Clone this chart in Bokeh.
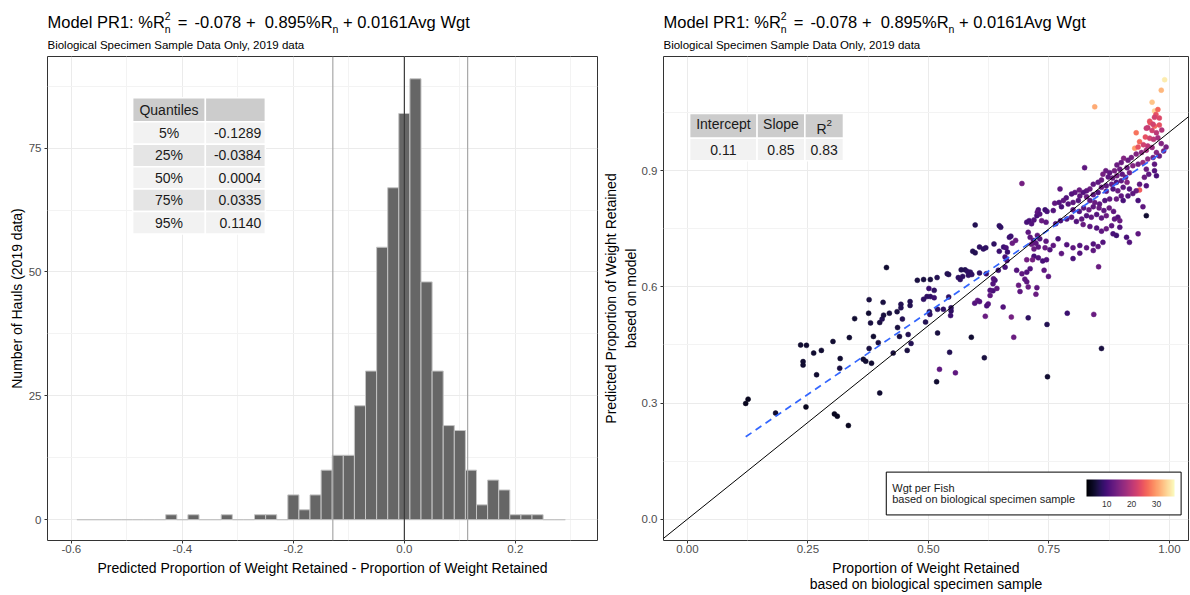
from bokeh.plotting import figure
from bokeh.models import (Range1d, FixedTicker, CustomJSTickFormatter, Span, Slope,
                          ColorBar, LinearColorMapper)
from bokeh.layouts import row, column
from bokeh.palettes import Magma256
from bokeh.transform import linear_cmap
from bokeh.core.properties import value
from bokeh.embed import file_html
from bokeh.resources import INLINE

FONT = "Liberation Sans"

# ---------------- data ----------------
bin_width = 0.02
bin_centers = [-0.58, -0.56, -0.54, -0.52, -0.50, -0.48, -0.46, -0.44, -0.42, -0.40,
               -0.38, -0.36, -0.34, -0.32, -0.30, -0.28, -0.26, -0.24, -0.22, -0.20,
               -0.18, -0.16, -0.14, -0.12, -0.10, -0.08, -0.06, -0.04, -0.02, 0.00,
               0.02, 0.04, 0.06, 0.08, 0.10, 0.12, 0.14, 0.16, 0.18, 0.20,
               0.22, 0.24, 0.26, 0.28]
haul_counts = [0, 0, 0, 0, 0, 0, 0, 0, 1, 0,
               1, 0, 0, 1, 0, 0, 1, 1, 0, 5,
               2, 5, 10, 13, 13, 23, 30, 55, 67, 82,
               89, 48, 30, 19, 18, 10, 3, 8, 6, 1,
               1, 1, 0, 0]

quantile_labels = ["5%", "25%", "50%", "75%", "95%"]
quantile_values = [-0.1289, -0.0384, 0.0004, 0.0335, 0.1140]

reg_labels = ["Intercept", "Slope", "R"]
reg_values = [0.11, 0.85, 0.83]

title_parts = ["Model PR1: %R", "n", "2", "=", "-0.078 +\u00a0\u00a00.895%R", "n", "+ 0.0161Avg Wgt"]
subtitle = "Biological Specimen Sample Data Only, 2019 data"
left_xlabel = ["Predicted Proportion of Weight Retained - Proportion of Weight Retained"]
left_ylabel = "Number of Hauls (2019 data)"
right_xlabel = ["Proportion of Weight Retained", "based on biological specimen sample"]
right_ylabel = "Predicted Proportion of Weight Retained\nbased on model"
legend_lines = ["Wgt per Fish", "based on biological specimen sample"]

obs_prop = [
    0.121, 0.126, 0.183, 0.246, 0.240, 0.240, 0.235, 0.247, 0.262, 0.278,
    0.268, 0.302, 0.317, 0.316, 0.305, 0.311, 0.334, 0.336, 0.347, 0.377,
    0.376, 0.380, 0.365, 0.370, 0.382, 0.377, 0.386, 0.396, 0.399, 0.404,
    0.407, 0.406, 0.419, 0.399, 0.427, 0.435, 0.443, 0.443, 0.436, 0.446,
    0.440, 0.458, 0.462, 0.462, 0.456, 0.464, 0.494, 0.502, 0.503, 0.490,
    0.497, 0.504, 0.512, 0.519, 0.531, 0.547, 0.547, 0.546, 0.519, 0.544,
    0.517, 0.523, 0.556, 0.589, 0.616, 0.596, 0.602, 0.606, 0.621, 0.624,
    0.618, 0.628, 0.655, 0.672, 0.677, 0.707, 0.746, 0.747, 0.788, 0.843,
    0.859, 0.723, 0.690, 0.634,
    0.694, 0.597, 0.647, 0.650, 0.413, 0.592, 0.597, 0.606, 0.614, 0.619,
    0.636, 0.647, 0.656, 0.661, 0.664, 0.659, 0.668, 0.671, 0.674, 0.681,
    0.663, 0.659, 0.645, 0.638, 0.635, 0.634, 0.642, 0.628, 0.620, 0.606,
    0.587, 0.590, 0.583, 0.568, 0.576, 0.581, 0.566, 0.562, 0.571, 0.542,
    0.539, 0.518, 0.504, 0.490, 0.477, 0.501, 0.512, 0.542, 0.683, 0.694,
    0.704, 0.687, 0.700, 0.704, 0.707, 0.725, 0.711, 0.719, 0.728, 0.737,
    0.745, 0.740, 0.749, 0.704, 0.709, 0.714, 0.719, 0.725, 0.728, 0.726,
    0.731, 0.735, 0.744, 0.742, 0.746, 0.707, 0.711, 0.718, 0.714, 0.723,
    0.719, 0.728, 0.731, 0.744, 0.742, 0.726, 0.704, 0.716,
    0.960, 0.969, 0.979, 0.964, 0.973, 0.931, 0.950, 0.959, 0.967, 0.976,
    0.983, 0.938, 0.946, 0.955, 0.964, 0.928, 0.935, 0.952, 0.942, 0.973,
    0.993, 0.988, 0.979, 0.966, 0.955, 0.931, 0.921, 0.914, 0.905, 0.900,
    0.891, 0.945, 0.935, 0.924, 0.912, 0.969, 0.952, 0.969, 0.957, 0.973,
    0.948, 0.938, 0.952, 0.938, 0.931, 0.935, 0.945, 0.952, 0.935, 0.917,
    0.890, 0.883, 0.897, 0.886, 0.876, 0.868, 0.862, 0.873, 0.882, 0.891,
    0.902, 0.909, 0.917, 0.912, 0.900, 0.890, 0.880, 0.869, 0.859, 0.852,
    0.859, 0.842, 0.835, 0.828, 0.821, 0.813, 0.804, 0.797, 0.814, 0.828,
    0.842, 0.852, 0.869, 0.883, 0.893, 0.904, 0.917, 0.924, 0.914, 0.900,
    0.890, 0.876, 0.866, 0.904, 0.824, 0.786, 0.780, 0.771, 0.762, 0.773,
    0.776, 0.790, 0.800, 0.811, 0.835, 0.845, 0.855, 0.759, 0.800, 0.813,
    0.822, 0.833, 0.842, 0.854, 0.864, 0.875, 0.884, 0.893, 0.886, 0.869,
    0.859, 0.849, 0.838, 0.828, 0.818, 0.807, 0.797, 0.787, 0.774, 0.764,
    0.821, 0.835, 0.849, 0.859, 0.869, 0.880, 0.897, 0.911, 0.862, 0.852,
    0.842, 0.828, 0.814, 0.800, 0.787, 0.769, 0.759, 0.752, 0.776, 0.800,
    0.814, 0.842, 0.897, 0.853, 0.990, 0.983, 0.964, 0.969, 0.845, 0.976,
    0.972, 0.969, 0.979, 0.959, 0.966, 0.955, 0.984, 0.952,
]
pred_prop = [
    0.299, 0.310, 0.274, 0.290, 0.407, 0.398, 0.450, 0.449, 0.429, 0.436,
    0.373, 0.459, 0.415, 0.390, 0.272, 0.266, 0.242, 0.469, 0.518, 0.567,
    0.532, 0.507, 0.413, 0.408, 0.403, 0.441, 0.472, 0.456, 0.508, 0.517,
    0.527, 0.560, 0.532, 0.326, 0.429, 0.536, 0.555, 0.546, 0.495, 0.517,
    0.472, 0.477, 0.562, 0.552, 0.436, 0.454, 0.509, 0.536, 0.529, 0.568,
    0.575, 0.575, 0.572, 0.542, 0.542, 0.546, 0.538, 0.526, 0.481, 0.431,
    0.355, 0.387, 0.378, 0.470, 0.417, 0.558, 0.565, 0.562, 0.551, 0.556,
    0.524, 0.578, 0.548, 0.522, 0.470, 0.520, 0.503, 0.368, 0.532, 0.529,
    0.441, 0.581, 0.588, 0.590,
    0.867, 0.760, 0.758, 0.754, 0.650, 0.692, 0.688, 0.703, 0.698, 0.701,
    0.711, 0.692, 0.703, 0.701, 0.690, 0.677, 0.728, 0.731, 0.713, 0.720,
    0.668, 0.651, 0.643, 0.617, 0.621, 0.608, 0.596, 0.591, 0.634, 0.636,
    0.638, 0.632, 0.630, 0.644, 0.644, 0.640, 0.619, 0.624, 0.627, 0.632,
    0.634, 0.624, 0.619, 0.619, 0.617, 0.596, 0.591, 0.574, 0.643, 0.634,
    0.638, 0.604, 0.620, 0.613, 0.600, 0.598, 0.647, 0.679, 0.675, 0.667,
    0.670, 0.643, 0.627, 0.767, 0.771, 0.763, 0.773, 0.784, 0.799, 0.793,
    0.788, 0.771, 0.767, 0.799, 0.795, 0.741, 0.728, 0.720, 0.710, 0.713,
    0.698, 0.703, 0.724, 0.718, 0.701, 0.733, 0.670, 0.670,
    1.024, 1.015, 1.018, 1.004, 0.998, 0.998, 0.987, 0.984, 0.981, 0.985,
    0.970, 0.975, 0.967, 0.964, 0.960, 0.958, 0.961, 0.953, 0.947, 0.947,
    0.961, 0.951, 0.938, 0.934, 0.930, 0.943, 0.934, 0.927, 0.932, 0.921,
    0.915, 0.921, 0.917, 0.913, 0.908, 0.917, 0.904, 0.900, 0.891, 0.887,
    0.883, 0.865, 0.861, 0.850, 0.848, 0.823, 0.807, 0.784, 0.737, 0.715,
    0.733, 0.737, 0.904, 0.900, 0.895, 0.900, 0.891, 0.884, 0.881, 0.887,
    0.891, 0.883, 0.895, 0.870, 0.874, 0.870, 0.865, 0.861, 0.857, 0.870,
    0.876, 0.865, 0.853, 0.848, 0.844, 0.850, 0.844, 0.840, 0.835, 0.833,
    0.838, 0.844, 0.847, 0.853, 0.848, 0.857, 0.853, 0.841, 0.835, 0.835,
    0.827, 0.827, 0.823, 0.823, 0.908, 0.830, 0.823, 0.818, 0.816, 0.853,
    0.807, 0.814, 0.818, 0.823, 0.823, 0.818, 0.814, 0.797, 0.799, 0.795,
    0.804, 0.799, 0.807, 0.804, 0.797, 0.804, 0.795, 0.780, 0.775, 0.784,
    0.778, 0.787, 0.780, 0.784, 0.775, 0.769, 0.780, 0.775, 0.771, 0.763,
    0.761, 0.756, 0.752, 0.744, 0.750, 0.758, 0.754, 0.728, 0.715, 0.704,
    0.711, 0.701, 0.707, 0.701, 0.709, 0.724, 0.707, 0.696, 0.686, 0.673,
    0.687, 0.694, 0.771, 0.652, 1.135, 1.108, 1.077, 1.054, 1.065, 1.058,
    1.045, 1.038, 1.036, 1.028, 1.020, 1.011, 1.005, 1.010,
]
wgt_per_fish = [
    4, 4, 5, 4, 5, 5, 5, 5, 5, 5,
    5, 5, 5, 6, 4, 4, 4, 5, 5, 6,
    5, 6, 5, 5, 5, 6, 5, 6, 6, 7,
    6, 6, 6, 5, 6, 6, 7, 7, 6, 7,
    6, 7, 7, 7, 6, 7, 7, 7, 8, 8,
    8, 8, 9, 8, 8, 8, 8, 9, 6, 7,
    5, 12, 12, 5, 6, 11, 12, 11, 10, 11,
    13, 12, 11, 14, 13, 8, 7, 5, 9, 13,
    6, 13, 12, 10,
    14, 7, 8, 8, 5, 7, 7, 8, 8, 8,
    8, 9, 9, 10, 9, 10, 9, 9, 13, 13,
    11, 10, 9, 10, 11, 11, 12, 11, 9, 8,
    8, 8, 8, 7, 7, 8, 8, 8, 8, 7,
    7, 7, 6, 6, 6, 9, 8, 8, 11, 12,
    11, 13, 12, 12, 13, 12, 11, 10, 11, 10,
    11, 12, 12, 10, 10, 11, 11, 10, 10, 12,
    11, 13, 12, 9, 10, 12, 12, 11, 13, 12,
    13, 12, 11, 12, 13, 12, 14, 14,
    25, 26, 24, 22, 20, 27, 24, 22, 20, 18,
    15, 26, 22, 20, 17, 30, 24, 18, 16, 15,
    14, 14, 13, 14, 16, 15, 14, 13, 15, 13,
    13, 17, 14, 15, 13, 12, 13, 11, 12, 10,
    13, 12, 11, 25, 13, 10, 12, 5, 12, 11,
    9, 10, 13, 14, 12, 13, 14, 12, 13, 14,
    12, 13, 14, 15, 12, 11, 13, 12, 13, 12,
    13, 12, 13, 12, 11, 13, 12, 11, 12, 13,
    12, 11, 12, 11, 13, 12, 11, 12, 11, 12,
    13, 12, 11, 10, 12, 11, 12, 11, 12, 12,
    10, 11, 12, 11, 12, 13, 12, 11, 12, 11,
    12, 13, 12, 13, 12, 13, 12, 11, 12, 13,
    12, 11, 12, 11, 12, 11, 12, 11, 10, 11,
    13, 12, 11, 12, 13, 12, 11, 10, 11, 12,
    11, 12, 11, 12, 11, 10, 12, 11, 12, 10,
    11, 12, 13, 13, 36, 32, 33, 34, 31, 26,
    24, 22, 23, 24, 22, 20, 19, 21,
]
wgt_low, wgt_high = 1.8, 37.3
n_pts = min(len(obs_prop), len(pred_prop), len(wgt_per_fish))
obs_prop, pred_prop, wgt_per_fish = obs_prop[:n_pts], pred_prop[:n_pts], wgt_per_fish[:n_pts]

# ---------------- layout helpers ----------------
AW = {' ': 278, '\u00a0': 278, '%': 889, '(': 333, ')': 333, '+': 584, ',': 278, '-': 333,
      '.': 278, ':': 278, '=': 584, 'A': 667, 'B': 667, 'D': 722, 'M': 833, 'O': 778,
      'P': 667, 'R': 722, 'S': 667, 'W': 944, 'a': 556, 'b': 556, 'c': 500, 'd': 556,
      'e': 556, 'f': 278, 'g': 556, 'h': 556, 'i': 222, 'l': 222, 'm': 833, 'n': 556,
      'o': 556, 'p': 556, 'r': 333, 's': 500, 't': 278, 'u': 556, 'v': 500, 'y': 500}


def tw(s, size):
    return sum(AW.get(c, 556) for c in s) * size / 1000.0


def mid(baseline, size):
    # centre ("middle" text baseline) for a wanted alphabetic baseline, in page pixels
    return baseline - 0.3 * size


TITLE_H = 55
PLOT_H = 503
STRIP_H = 594 - TITLE_H - PLOT_H
TOP_B, BOT_B = 1, 18
FH = PLOT_H - TOP_B - BOT_B
P1_W, P1_L, P1_R = 600, 47, 3
P2_W, P2_L, P2_R = 589, 63, 1
FW1 = P1_W - P1_L - P1_R
FW2 = P2_W - P2_L - P2_R

L_XR = (-0.643, 0.348)
L_YR = (-4.2, 93.5)
R_XR = (-0.0495, 1.0395)
R_YR = (-0.055, 1.195)


def lx(X):  # reference pixel -> left data
    return (X - 404.0) / 555.0


def ly(Y):
    return (520.0 - Y) / 4.96


def rx(X):
    return (X - 686.0) / 484.0


def ry(Y):
    return (520.0 - Y) / 389.0


def strip(height, left, right, fw):
    s = figure(frame_width=fw, frame_height=height, output_backend="svg", toolbar_location=None,
               title=None, x_range=Range1d(0, fw), y_range=Range1d(0, height),
               x_axis_type=None, y_axis_type=None,
               min_border_left=left, min_border_right=right, min_border_top=0, min_border_bottom=0)
    s.outline_line_color = None
    s.background_fill_color = "white"
    s.border_fill_color = "white"
    return s


def txt(p, x, y, t, size, align="left", baseline="middle", color="black"):
    p.text(x=[x], y=[y], text=[t], text_font=value(FONT), text_font_size=value("%.1fpx" % size),
           text_align=align, text_baseline=baseline, text_color=color)


def title_strip(left, right, fw):
    s = strip(TITLE_H, left, right, fw)
    big, small = 16.5, 10.5
    base = TITLE_H - mid(26.0, big)
    sub_b = TITLE_H - mid(31.5, small)
    sup_b = TITLE_H - mid(19.0, small)
    x = 0.0
    txt(s, x, base, title_parts[0], big)
    x += tw(title_parts[0], big)
    txt(s, x, sub_b, title_parts[1], small)
    txt(s, x, sup_b, title_parts[2], small)
    x += tw("n", small) + tw(" ", big) + 2.5
    txt(s, x, base, title_parts[3], big)
    x += tw("=", big) + tw(" ", big) + 2.5
    txt(s, x, base, title_parts[4], big)
    x += tw(title_parts[4], big)
    txt(s, x, sub_b, title_parts[5], small)
    x += tw("n", small) + tw(" ", big)
    txt(s, x, base, title_parts[6], big)
    txt(s, 0, TITLE_H - mid(47.5, 11.5), subtitle, 11.5)
    return s


def xlabel_strip(left, right, fw, lines):
    s = strip(STRIP_H, left, right, fw)
    top = TITLE_H + PLOT_H
    ys = [STRIP_H - (567.0 - top), STRIP_H - (583.0 - top)]
    for t, yy in zip(lines, ys):
        txt(s, fw / 2.0, yy, t, 14, align="center")
    return s


def style(p, xt, xmin, yt, ymin, xfmt=None, yfmt=None):
    xtick = FixedTicker(ticks=xt, minor_ticks=xmin)
    ytick = FixedTicker(ticks=yt, minor_ticks=ymin)
    p.xaxis.ticker = xtick
    p.yaxis.ticker = ytick
    p.xgrid.ticker = xtick
    p.ygrid.ticker = ytick
    if xfmt:
        p.xaxis.formatter = CustomJSTickFormatter(code="return tick.toFixed(%d)" % xfmt)
    if yfmt:
        p.yaxis.formatter = CustomJSTickFormatter(code="return tick.toFixed(%d)" % yfmt)
    for g in (p.xgrid, p.ygrid):
        g.grid_line_color = "#ebebeb"
        g.grid_line_width = 1
        g.minor_grid_line_color = "#f3f3f3"
        g.minor_grid_line_width = 1
    p.outline_line_color = "#333333"
    p.outline_line_width = 1
    p.outline_line_alpha = 1
    p.background_fill_color = "white"
    p.border_fill_color = "white"
    for ax in (p.xaxis[0], p.yaxis[0]):
        ax.axis_line_color = None
        ax.major_tick_line_color = "#333333"
        ax.major_tick_out = 3
        ax.major_tick_in = 0
        ax.minor_tick_line_color = None
        ax.major_label_text_font = FONT
        ax.major_label_text_font_size = "11.5px"
        ax.major_label_text_color = "#4d4d4d"
        ax.axis_label_text_font = FONT
        ax.axis_label_text_font_size = "14px"
        ax.axis_label_text_font_style = "normal"
        ax.axis_label_text_color = "black"
        ax.axis_label_standoff = 1
    p.xaxis[0].major_label_standoff = 0
    p.yaxis[0].major_label_standoff = 2


# ---------------- left: histogram ----------------
p1 = figure(width=P1_W, height=PLOT_H, output_backend="svg", toolbar_location=None, title=None,
            x_range=Range1d(*L_XR), y_range=Range1d(*L_YR),
            min_border_left=P1_L, min_border_right=P1_R, min_border_top=TOP_B, min_border_bottom=BOT_B)
style(p1, [-0.6, -0.4, -0.2, 0.0, 0.2], [-0.5, -0.3, -0.1, 0.1, 0.3],
      [0, 25, 50, 75], [12.5, 37.5, 62.5, 87.5], xfmt=1)
p1.yaxis.axis_label = left_ylabel

p1.quad(left=[c - bin_width / 2 for c in bin_centers], right=[c + bin_width / 2 for c in bin_centers],
        top=haul_counts, bottom=0, fill_color="#666666", line_color="#c4c4c4", line_width=1)

p1.add_layout(Span(location=quantile_values[0], dimension="height", line_color="#a8a8a8", line_width=1.2))
p1.add_layout(Span(location=quantile_values[-1], dimension="height", line_color="#a8a8a8", line_width=1.2))
p1.add_layout(Span(location=0.0, dimension="height", line_color="#3a3a3a", line_width=1.2))

# quantile table
tcols = [132.3, 205.0, 265.0]
trows = [97.5, 121.5, 144.0, 166.5, 189.0, 211.5, 234.0]
q_l, q_r, q_t, q_b, q_f = [], [], [], [], []
for i in range(6):
    fill = "#cccccc" if i == 0 else ("#f2f2f2" if i % 2 == 1 else "#e5e5e5")
    for j in range(2):
        q_l.append(lx(tcols[j])); q_r.append(lx(tcols[j + 1]))
        q_t.append(ly(trows[i])); q_b.append(ly(trows[i + 1])); q_f.append(fill)
p1.quad(left=q_l, right=q_r, top=q_t, bottom=q_b, fill_color=q_f, line_color="white", line_width=1.5)
c1 = (tcols[0] + tcols[1]) / 2
txt(p1, lx(c1), ly((trows[0] + trows[1]) / 2), "Quantiles", 14, "center", "middle", "#1a1a1a")
rc = [(trows[i + 1] + trows[i + 2]) / 2 for i in range(5)]
p1.text(x=[lx(c1)] * 5, y=[ly(v) for v in rc], text=quantile_labels,
        text_font=value(FONT), text_font_size=value("14px"), text_align="center",
        text_baseline="middle", text_color="#1a1a1a")
p1.text(x=[lx(261.0)] * 5, y=[ly(v) for v in rc], text=["%.4f" % v for v in quantile_values],
        text_font=value(FONT), text_font_size=value("14px"), text_align="right",
        text_baseline="middle", text_color="#1a1a1a")

# ---------------- right: scatter ----------------
p2 = figure(width=P2_W, height=PLOT_H, output_backend="svg", toolbar_location=None, title=None,
            x_range=Range1d(*R_XR), y_range=Range1d(*R_YR),
            min_border_left=P2_L, min_border_right=P2_R, min_border_top=TOP_B, min_border_bottom=BOT_B)
style(p2, [0.0, 0.25, 0.5, 0.75, 1.0], [0.125, 0.375, 0.625, 0.875],
      [0.0, 0.3, 0.6, 0.9], [0.15, 0.45, 0.75, 1.05], xfmt=2, yfmt=1)
p2.yaxis.axis_label = right_ylabel
p2.yaxis[0].axis_label_standoff = 0

cmap = linear_cmap("w", Magma256, wgt_low, wgt_high)
p2.scatter(x="x", y="y", source=dict(x=obs_prop, y=pred_prop, w=wgt_per_fish),
           size=5, fill_color=cmap, line_color=cmap, line_width=0.5)

p2.add_layout(Slope(gradient=1, y_intercept=0, line_color="black", line_width=1))
xmin, xmax = min(obs_prop), max(obs_prop)
p2.line([xmin, xmax], [reg_values[0] + reg_values[1] * xmin, reg_values[0] + reg_values[1] * xmax],
        line_color="#3366FF", line_width=1.7, line_dash="7 5")

# regression table
rcols = [688.3, 756.0, 804.0, 842.7]
rrows = [112.3, 137.3, 160.0]
r_l, r_r, r_t, r_b, r_f = [], [], [], [], []
for i in range(2):
    for j in range(3):
        r_l.append(rx(rcols[j])); r_r.append(rx(rcols[j + 1]))
        r_t.append(ry(rrows[i])); r_b.append(ry(rrows[i + 1]))
        r_f.append("#cccccc" if i == 0 else "#f2f2f2")
p2.quad(left=r_l, right=r_r, top=r_t, bottom=r_b, fill_color=r_f, line_color="white", line_width=1.5)
ccs = [(rcols[j] + rcols[j + 1]) / 2 for j in range(3)]
p2.text(x=[rx(ccs[0]), rx(ccs[1])], y=[ry(123.3)] * 2, text=reg_labels[:2],
        text_font=value(FONT), text_font_size=value("14px"), text_align="center",
        text_baseline="middle", text_color="#1a1a1a")
r_w = tw("R", 14) + tw("2", 9.8)
txt(p2, rx(ccs[2] - r_w / 2), ry(mid(131.7, 14)), reg_labels[2], 14, "left", "middle", "#1a1a1a")
txt(p2, rx(ccs[2] - r_w / 2 + tw("R", 14)), ry(mid(124.5, 9.8)), "2", 9.8, "left", "middle", "#1a1a1a")
p2.text(x=[rx(c) for c in ccs], y=[ry(149.5)] * 3, text=["%.2f" % v for v in reg_values],
        text_font=value(FONT), text_font_size=value("14px"), text_align="center",
        text_baseline="middle", text_color="#1a1a1a")

# colour legend box
p2.quad(left=[rx(885.7)], right=[rx(1181.7)], top=[ry(472.7)], bottom=[ry(515.7)],
        fill_color="white", line_color="black", line_width=1)
p2.text(x=[rx(891.7)] * 2, y=[ry(mid(491.5, 11)), ry(mid(503.0, 11))], text=legend_lines,
        text_font=value(FONT), text_font_size=value("11px"), text_align="left",
        text_baseline="middle", text_color="#1a1a1a")


def px_x(xd):
    return (xd - R_XR[0]) / (R_XR[1] - R_XR[0]) * FW2


def px_y(yd):
    return (yd - R_YR[0]) / (R_YR[1] - R_YR[0]) * FH


bar_l = px_x(rx(1086.3))
bar_w = px_x(rx(1175.0)) - bar_l
bar_b = px_y(ry(495.3))
bar_h = px_y(ry(478.0)) - bar_b
mapper = LinearColorMapper(palette=Magma256, low=wgt_low, high=wgt_high)
cb = ColorBar(color_mapper=mapper, orientation="horizontal",
              location=(int(round(bar_l)), int(round(bar_b - 14.5))),
              width=int(round(bar_w)), height=int(round(bar_h)), padding=0, margin=0,
              ticker=FixedTicker(ticks=[10, 20, 30]),
              major_label_text_font=FONT, major_label_text_font_size="8.5px",
              major_label_text_color="#333333", label_standoff=4,
              major_tick_line_color=None, minor_tick_line_color=None,
              bar_line_color=None, border_line_color=None,
              background_fill_alpha=0)
p2.add_layout(cb)

t1 = title_strip(P1_L, P1_R, FW1)
t2 = title_strip(P2_L, P2_R, FW2)
s1 = xlabel_strip(P1_L, P1_R, FW1, left_xlabel)
s2 = xlabel_strip(P2_L, P2_R, FW2, right_xlabel)

layout = row(column(t1, p1, s1), column(t2, p2, s2))
open("out.html", "w").write(file_html(layout, INLINE))
